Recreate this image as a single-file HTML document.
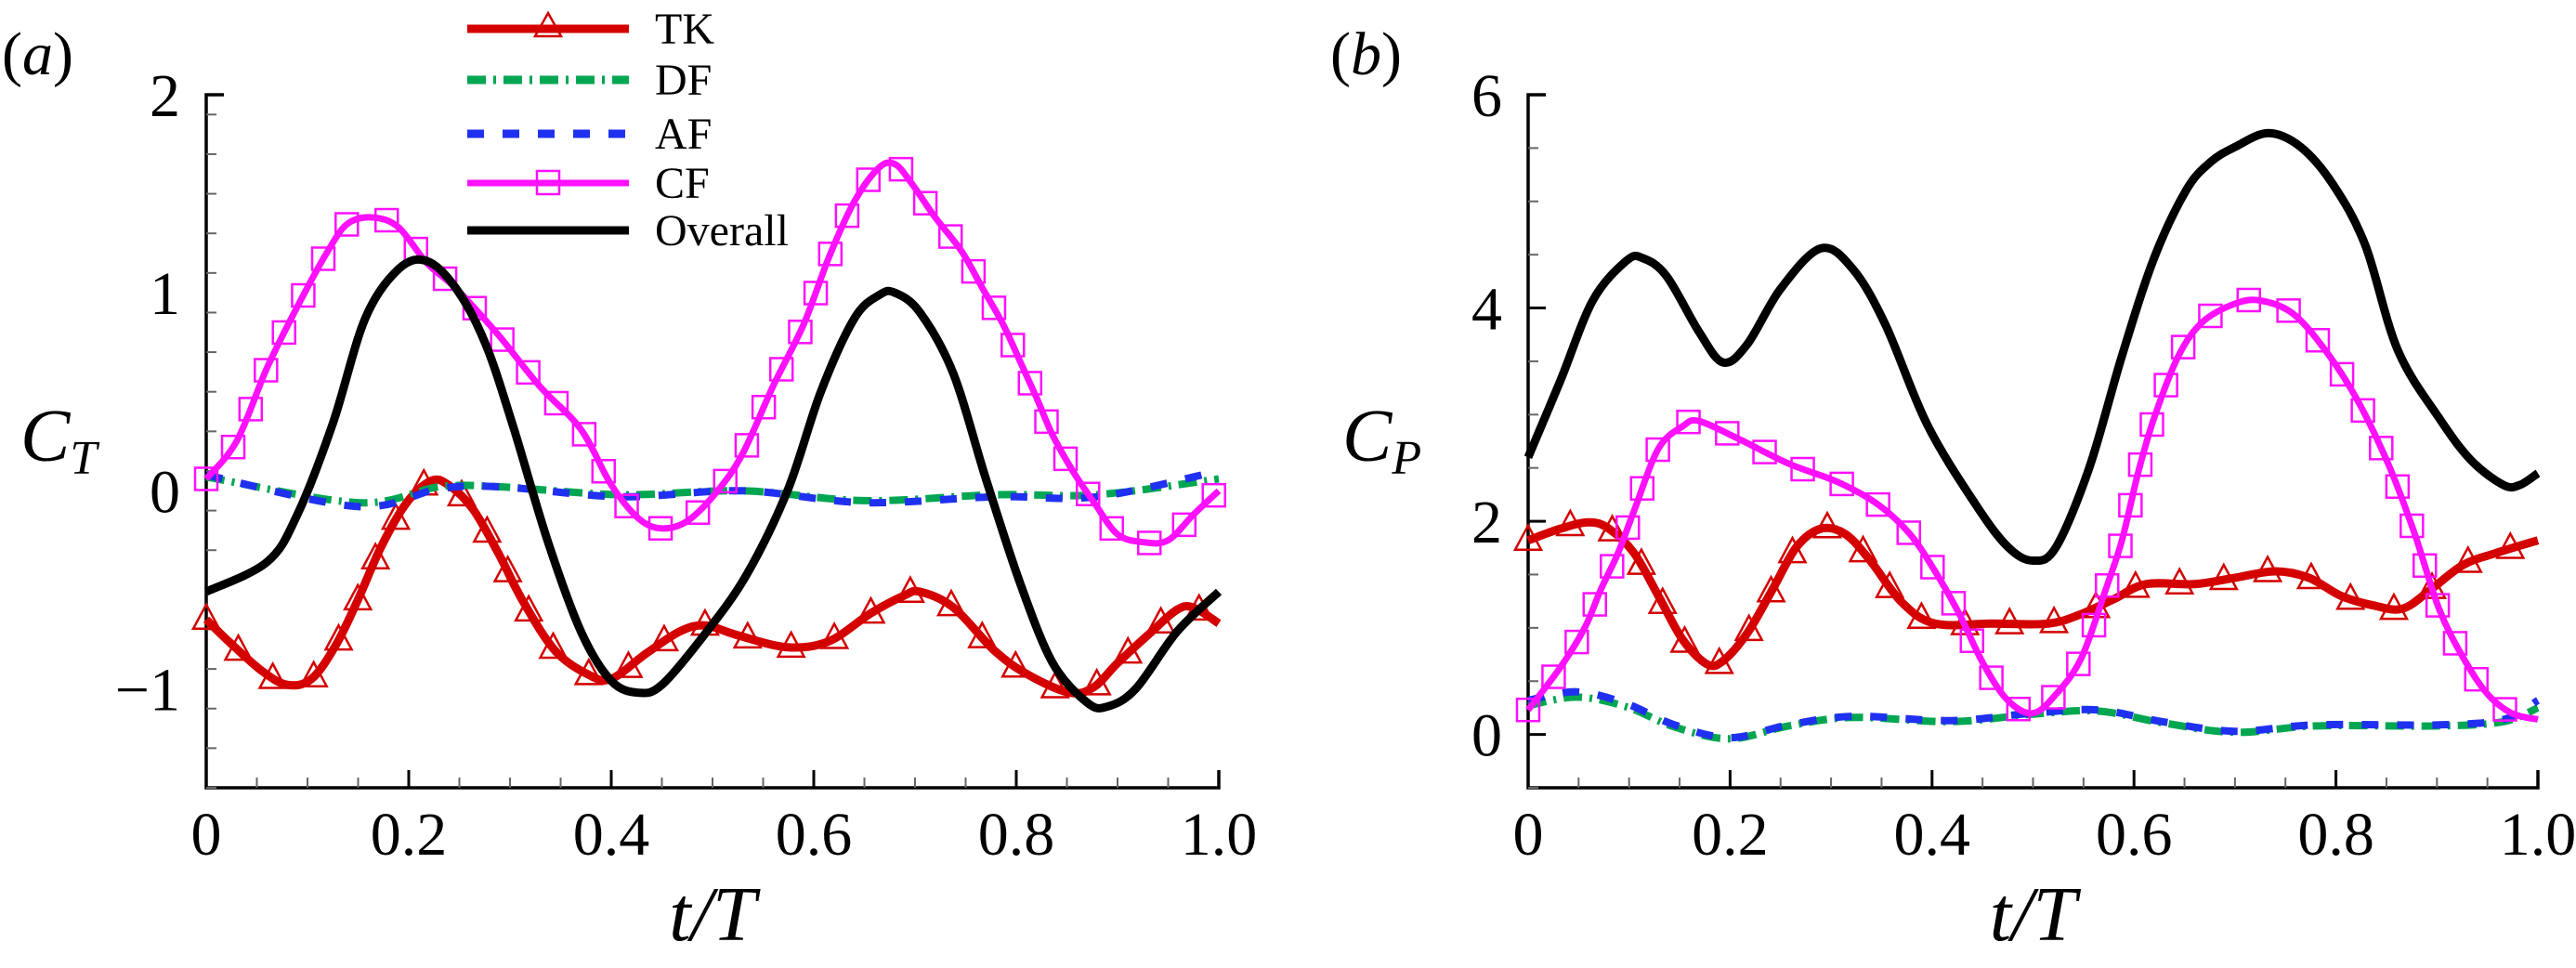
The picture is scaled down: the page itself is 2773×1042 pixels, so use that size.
<!DOCTYPE html>
<html><head><meta charset="utf-8"><style>
html,body{margin:0;padding:0;background:#fff;}
svg text{font-family:"Liberation Serif","Times New Roman","DejaVu Serif",serif;fill:#000;}
</style></head><body>
<svg id="fig" width="2773" height="1037" viewBox="0 0 2773 1037" xmlns="http://www.w3.org/2000/svg" font-family="Liberation Serif, Times New Roman, DejaVu Serif, serif">
<g id="pa"></g>
<g id="pb"></g>
<g id="legend"></g>
</svg>
<script>
// ---- Panel (a) data: C_T ----
const aTK_t=[0,.022,.055,.08,.104,.128,.149,.173,.198,.222,.239,.263,.288,.313,.345,.378,.4,.435,.468,.493,.525,.574,.615,.656,.689,.705,.738,.779,.812,.853,.877,.9,.934,.959,.975,1];
const aTK_v=[-.65,-.76,-.91,-.98,-.95,-.78,-.56,-.28,-.06,.05,.03,-.09,-.31,-.56,-.81,-.93,-.95,-.82,-.71,-.68,-.73,-.79,-.76,-.62,-.53,-.51,-.59,-.81,-.93,-1.02,-.99,-.87,-.71,-.6,-.59,-.67];
const aCF_t=[0,.03,.06,.09,.12,.14,.165,.19,.218,.247,.288,.329,.37,.4,.427,.45,.476,.505,.53,.56,.59,.615,.64,.664,.68,.697,.72,.746,.767,.787,.804,.82,.836,.857,.877,.9,.926,.95,.975,1];
const aCF_v=[.06,.25,.62,.93,1.21,1.35,1.38,1.33,1.15,1.02,.79,.53,.31,.03,-.14,-.19,-.15,0,.19,.53,.84,1.18,1.46,1.63,1.65,1.55,1.38,1.21,1.02,.84,.65,.47,.28,.09,-.06,-.22,-.26,-.25,-.12,0];
const aOV_t=[0,.06,.09,.125,.157,.19,.218,.247,.276,.304,.337,.37,.4,.427,.45,.49,.533,.574,.607,.64,.665,.68,.705,.738,.77,.804,.836,.87,.89,.918,.959,1];
const aOV_v=[-.51,-.36,-.12,.34,.87,1.12,1.16,1.02,.74,.31,-.25,-.71,-.96,-1.02,-.98,-.74,-.43,0,.5,.87,.99,1.0,.9,.59,.06,-.47,-.87,-1.07,-1.09,-1.0,-.71,-.51];
const aDF_t=[0,.15,.23,.29,.41,.53,.65,.78,.88,1];
const aDF_v=[.07,-.06,.02,.02,-.02,0,-.05,-.02,-.02,.06];
const aAF_t=[0,.15,.23,.29,.41,.53,.65,.78,.88,1];
const aAF_v=[.08,-.08,.01,.02,-.03,0,-.06,-.03,-.03,.1];
// ---- Panel (b) data: C_P ----
const bTK_t=[0,.032,.06,.08,.105,.129,.153,.177,.193,.217,.242,.266,.29,.314,.338,.37,.403,.459,.515,.548,.58,.612,.66,.7,.74,.773,.805,.837,.866,.894,.926,.958,1];
const bTK_v=[1.82,1.93,1.99,1.93,1.7,1.3,.89,.66,.69,.95,1.36,1.76,1.93,1.88,1.64,1.24,1.04,1.04,1.04,1.13,1.27,1.41,1.41,1.47,1.53,1.47,1.3,1.21,1.18,1.36,1.59,1.7,1.82];
const bCF_t=[0,.032,.056,.072,.089,.105,.129,.153,.169,.209,.258,.306,.346,.378,.403,.427,.451,.475,.5,.523,.548,.572,.588,.604,.62,.644,.668,.7,.725,.757,.789,.821,.853,.878,.902,.926,.95,.974,1];
const bCF_v=[.23,.63,1.0,1.36,1.7,2.1,2.68,2.89,2.94,2.77,2.54,2.37,2.16,1.88,1.53,1.13,.66,.32,.2,.38,.72,1.36,1.82,2.45,2.97,3.55,3.87,4.04,4.07,3.95,3.61,3.14,2.51,1.88,1.18,.72,.38,.2,.14];
const bOV_t=[0,.032,.064,.097,.113,.137,.169,.193,.217,.25,.29,.322,.354,.395,.443,.475,.5,.523,.556,.588,.62,.652,.676,.7,.733,.765,.797,.829,.861,.902,.934,.966,.982,1];
const bOV_v=[2.6,3.32,4.07,4.44,4.47,4.3,3.78,3.49,3.66,4.18,4.56,4.36,3.84,2.91,2.16,1.76,1.63,1.76,2.51,3.55,4.47,5.11,5.37,5.51,5.64,5.51,5.16,4.59,3.61,2.97,2.57,2.34,2.34,2.45];
const bAF_t=[0,.048,.097,.145,.2,.258,.322,.419,.5,.564,.628,.7,.78,.902,.966,1];
const bAF_v=[.32,.4,.29,.09,-.03,.09,.17,.13,.2,.23,.12,.03,.09,.09,.14,.32];
const bDF_v=[.27,.35,.26,.07,-.04,.08,.16,.12,.19,.22,.11,.02,.08,.08,.12,.25];
const xTicks=[0,.2,.4,.6,.8,1.0];
const xTickLabels=["0","0.2","0.4","0.6","0.8","1.0"];
const aYTicks=[-1,0,1,2];
const bYTicks=[0,2,4,6];
const legendLabels=["TK","DF","AF","CF","Overall"];

const NS="http://www.w3.org/2000/svg";
const FONT="Liberation Serif, Times New Roman, DejaVu Serif, serif";
function mk(parent,tag,attrs){const e=document.createElementNS(NS,tag);for(const k in attrs)e.setAttribute(k,attrs[k]);if(tag==="text")e.setAttribute("font-family",FONT);parent.appendChild(e);return e;}
function smoothPath(pts){
  let d="M"+pts[0][0].toFixed(1)+","+pts[0][1].toFixed(1);
  for(let i=0;i<pts.length-1;i++){
    const p0=pts[i-1]||pts[i],p1=pts[i],p2=pts[i+1],p3=pts[i+2]||pts[i+1];
    const c1=[p1[0]+(p2[0]-p0[0])/6,p1[1]+(p2[1]-p0[1])/6];
    const c2=[p2[0]-(p3[0]-p1[0])/6,p2[1]-(p3[1]-p1[1])/6];
    d+="C"+c1[0].toFixed(1)+","+c1[1].toFixed(1)+" "+c2[0].toFixed(1)+","+c2[1].toFixed(1)+" "+p2[0].toFixed(1)+","+p2[1].toFixed(1);
  }
  return d;
}
const RED="#d40000",GRN="#00a651",BLU="#2030f0",MAG="#ff10ff";

function panel(g,cfg){
  const X=t=>cfg.x0+(cfg.x1-cfg.x0)*t;
  const Y=v=>cfg.yb-(cfg.yb-cfg.yt)*(v-cfg.ymin)/(cfg.ymax-cfg.ymin);
  const ax=mk(g,"path",{d:`M${cfg.x0+19},${cfg.yt}H${cfg.x0}V${cfg.yb}H${cfg.x1}V${cfg.yb-19}`,fill:"none",stroke:"#000","stroke-width":3.5});
  
  
  for(let k=0;k<=20;k++){
    const t=k*0.05,major=(k%4===0);
    const tk=mk(g,"line",{x1:X(t),x2:X(t),y1:cfg.yb,y2:cfg.yb-(major?19:11),stroke:major?"#000":"#666","stroke-width":major?3:2});
    
    
  }
  xTicks.forEach((t,i)=>{
    const tx=mk(g,"text",{x:X(t),y:cfg.yb+72,"font-size":66,"text-anchor":"middle"});
    tx.textContent=xTickLabels[i];
    
    
  });
  for(let v=cfg.ymin;v<=cfg.ymax+1e-9;v+=cfg.minor){
    const major=cfg.yTicks.some(m=>Math.abs(m-v)<1e-6);
    const tk=mk(g,"line",{x1:cfg.x0,x2:cfg.x0+(major?19:11),y1:Y(v),y2:Y(v),stroke:major?"#000":"#666","stroke-width":major?3:2});
    
    
  }
  cfg.yTicks.forEach(v=>{
    const tx=mk(g,"text",{x:cfg.x0-28,y:Y(v)+23,"font-size":66,"text-anchor":"end"});
    tx.textContent=(v<0?"\u2212":"")+Math.abs(v);
    
    
  });
  const xl=mk(g,"text",{x:(cfg.x0+cfg.x1)/2,y:1012,"font-size":84,"font-style":"italic","text-anchor":"middle"});
  xl.textContent="t/T";
  
  
  const yl=mk(g,"text",{x:cfg.ylx,y:496,"font-size":80,"font-style":"italic"});
  yl.innerHTML=cfg.ysym+'<tspan font-size="52" dy="14">'+cfg.ysub+'</tspan>';
  
  
  const pl=mk(g,"text",{x:cfg.plx,y:80,"font-size":66});
  pl.innerHTML='(<tspan font-style="italic">'+cfg.tag+'</tspan>)';
  
  
  function series(name,tt,vv,color,w,dash,marker,spacing){
    const pts=tt.map((t,i)=>[X(t),Y(vv[i])]);
    const p=mk(g,"path",{d:smoothPath(pts),fill:"none",stroke:color,"stroke-width":w,"stroke-linejoin":"round"});
    if(dash)p.setAttribute("stroke-dasharray",dash);
    
    
    if(marker){
      const L=p.getTotalLength();
      for(let s=0;s<=L+1;s+=spacing){
        const q=p.getPointAtLength(Math.min(s,L));
        let m;
        if(marker==="sq") m=mk(g,"rect",{x:q.x-12,y:q.y-12,width:24,height:24,fill:"none",stroke:color,"stroke-width":2.5});
        else m=mk(g,"path",{d:`M${q.x},${q.y-16}L${q.x+14},${q.y+10}H${q.x-14}Z`,fill:"none",stroke:color,"stroke-width":2.5});
        
        
      }
    }
  }
  cfg.series.forEach(s=>series(...s));
}

panel(document.getElementById("pa"),{x0:222,x1:1312,yt:102,yb:848,ymin:-1.5,ymax:2,minor:0.2,yTicks:aYTicks,
  ylx:22,ysym:"C",ysub:"T",plx:2,tag:"a",
  series:[
    ["tk",aTK_t,aTK_v,RED,9,null,"tri",48],
    ["df",aDF_t,aDF_v,GRN,8,"20 8 3 8",null],
    ["af",aAF_t,aAF_v,BLU,8,"18 20",null],
    ["cf",aCF_t,aCF_v,MAG,7,null,"sq",45],
    ["overall",aOV_t,aOV_v,"#000",9,null,null]
  ]});
panel(document.getElementById("pb"),{x0:1645,x1:2732,yt:102,yb:848,ymin:-0.5,ymax:6,minor:0.5,yTicks:bYTicks,
  ylx:1445,ysym:"C",ysub:"P",plx:1432,tag:"b",
  series:[
    ["tk",bTK_t,bTK_v,RED,9,null,"tri",48],
    ["df",bAF_t,bDF_v,GRN,8,"20 8 3 8",null],
    ["af",bAF_t,bAF_v,BLU,8,"18 20",null],
    ["cf",bCF_t,bCF_v,MAG,7,null,"sq",45],
    ["overall",bOV_t,bOV_v,"#000",9,null,null]
  ]});

const lg=document.getElementById("legend");
const rows=[31,86,144,197,248];
const lcol=[RED,GRN,BLU,MAG,"#000"];
const ldash=[null,"20 8 3 8","18 20",null,null];
legendLabels.forEach((lab,i)=>{
  const y=rows[i];
  const ln=mk(lg,"line",{x1:503,x2:677,y1:y,y2:y,stroke:lcol[i],"stroke-width":i===3?7:9});
  if(ldash[i])ln.setAttribute("stroke-dasharray",ldash[i]);
  
  
  if(i===0){const m=mk(lg,"path",{d:`M590,${y-17}L604,${y+8}H576Z`,fill:"none",stroke:RED,"stroke-width":2.5});
    
    }
  if(i===3){const m=mk(lg,"rect",{x:578,y:y-13,width:24,height:25,fill:"none",stroke:MAG,"stroke-width":2.5});
    
    }
  const tx=mk(lg,"text",{x:705,y:y+16,"font-size":48});
  tx.textContent=lab;
  
  
});
</script>
</body></html>
